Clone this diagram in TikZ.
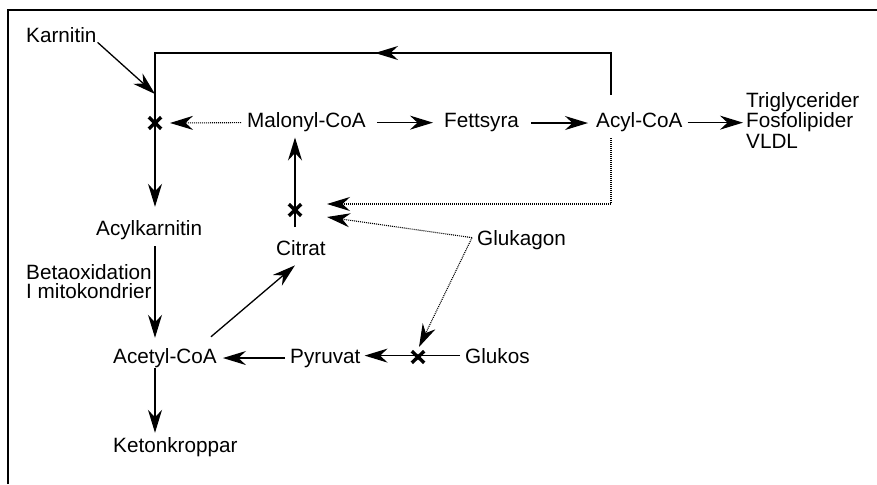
\documentclass[tikz,border=0pt]{standalone}
\usepackage{fontspec}
\setmainfont{Liberation Sans}
\usetikzlibrary{arrows.meta,calc}
\begin{document}
\begin{tikzpicture}[x=1pt,y=-1pt,
  lbl/.style={anchor=base west,inner sep=0pt,font=\fontsize{20.7}{20}\selectfont},
  tipstyle/.style={-{Stealth[length=23pt,width=14pt,inset=7.5pt]}},
  conn/.style={line width=1.3pt,tipstyle},
  plain/.style={line width=1.3pt},
  inh/.style={line width=1.1pt,dash pattern=on 1pt off 1pt,tipstyle},
  frame/.style={line width=1.4pt},
  crossmark/.style={line width=3.4pt}
]
\useasboundingbox (0,0) rectangle (877,484);
\draw[frame] (8,484) -- (8,10) -- (877,10);

% text nodes
\node[lbl] (karn) at (26,43) {Karnitin};
\node[lbl] (mal) at (247,128) {Malonyl-CoA};
\node[lbl] (fett) at (444,128) {Fettsyra};
\node[lbl] (acyl) at (596,128) {Acyl-CoA};
\node[lbl] (tri1) at (746,108) {Triglycerider};
\node[lbl] (tri2) at (746,128) {Fosfolipider};
\node[lbl] (tri3) at (746,148) {VLDL};
\node[lbl] (acylk) at (96,235) {Acylkarnitin};
\node[lbl] (beta1) at (26,279) {Betaoxidation};
\node[lbl] (beta2) at (26,298) {I mitokondrier};
\node[lbl] (citrat) at (276,255) {Citrat};
\node[lbl] (glukagon) at (477,245) {Glukagon};
\node[lbl] (acetyl) at (113,363) {Acetyl-CoA};
\node[lbl] (pyruvat) at (290,363) {Pyruvat};
\node[lbl] (glukos) at (465,363) {Glukos};
\node[lbl] (keton) at (113,452) {Ketonkroppar};

% helper coordinates
\coordinate (col) at (155,0);
\coordinate (kin) at (155,94);
\coordinate (cx1) at (155,123);
\coordinate (cx2) at (295,210);
\coordinate (cx3) at (418,357);
\coordinate (looptr) at (611,53);
\coordinate (looptl) at (155,53);

% cross marks
\foreach \c in {cx1,cx2,cx3}{
  \draw[crossmark] ($(\c)+(-6.2,-5.8)$) -- ($(\c)+(6.2,5.8)$);
  \draw[crossmark] ($(\c)+(-6.2,5.8)$) -- ($(\c)+(6.2,-5.8)$);
}

% Karnitin
\draw[conn] ($(karn.south east)+(1,-1)$) -- (kin);

% big loop from Acyl-CoA back to Acylkarnitin
\draw[plain] ($(acyl.north west)+(15,-18)$) -- (looptr) -- (looptl) -- (kin);
\draw[conn] (looptr) -- (375,53);
\draw[conn] (kin) -- ($(acylk.north -| col)+(0,-13)$);

% top row
\draw[inh] ([xshift=-6pt]mal.west) -- ($(cx1)+(15,0)$);
\draw[conn] ([xshift=11pt]mal.east) -- ([xshift=-11pt]fett.west |- mal.east);
\draw[conn] ([xshift=12pt]fett.east) -- ([xshift=-8pt]acyl.west |- fett.east);
\draw[conn] ([xshift=5pt]acyl.east) -- ([xshift=-3pt]tri2.west |- acyl.east);

% Acyl-CoA dotted inhibition
\draw[inh] ($(acyl.south west)+(15,6)$) |- ($(cx2)+(32,-6)$);
% Glukagon inhibitions
\draw[inh] ($(glukagon.west)+(-5,-2)$) -- ($(cx2)+(32,7)$);
\draw[inh] ($(glukagon.west)+(-5,-2)$) -- ($(cx3)+(1,-10)$);

% Citrat -> Malonyl-CoA
\draw[conn] ($(cx2)+(0,17)$) -- ($(cx2 |- mal.south)+(0,5)$);

% left column
\draw[conn] ($(acylk.south -| col)+(0,7)$) -- ($(acetyl.north -| col)+(0,-10)$);
\draw[conn] ($(acetyl.south -| col)+(0,1)$) -- ($(keton.north -| col)+(0,-4)$);

% bottom row
\draw[conn] ([xshift=-5pt]glukos.west) -- ([xshift=4pt]pyruvat.east |- glukos.west);
\draw[conn] ([xshift=-5pt]pyruvat.west) -- ([xshift=6pt]acetyl.east |- pyruvat.west);
\draw[conn] ($(acetyl.north east)+(-6,-11)$) -- ($(citrat.south)+(-6,10)$);
\end{tikzpicture}
\end{document}
